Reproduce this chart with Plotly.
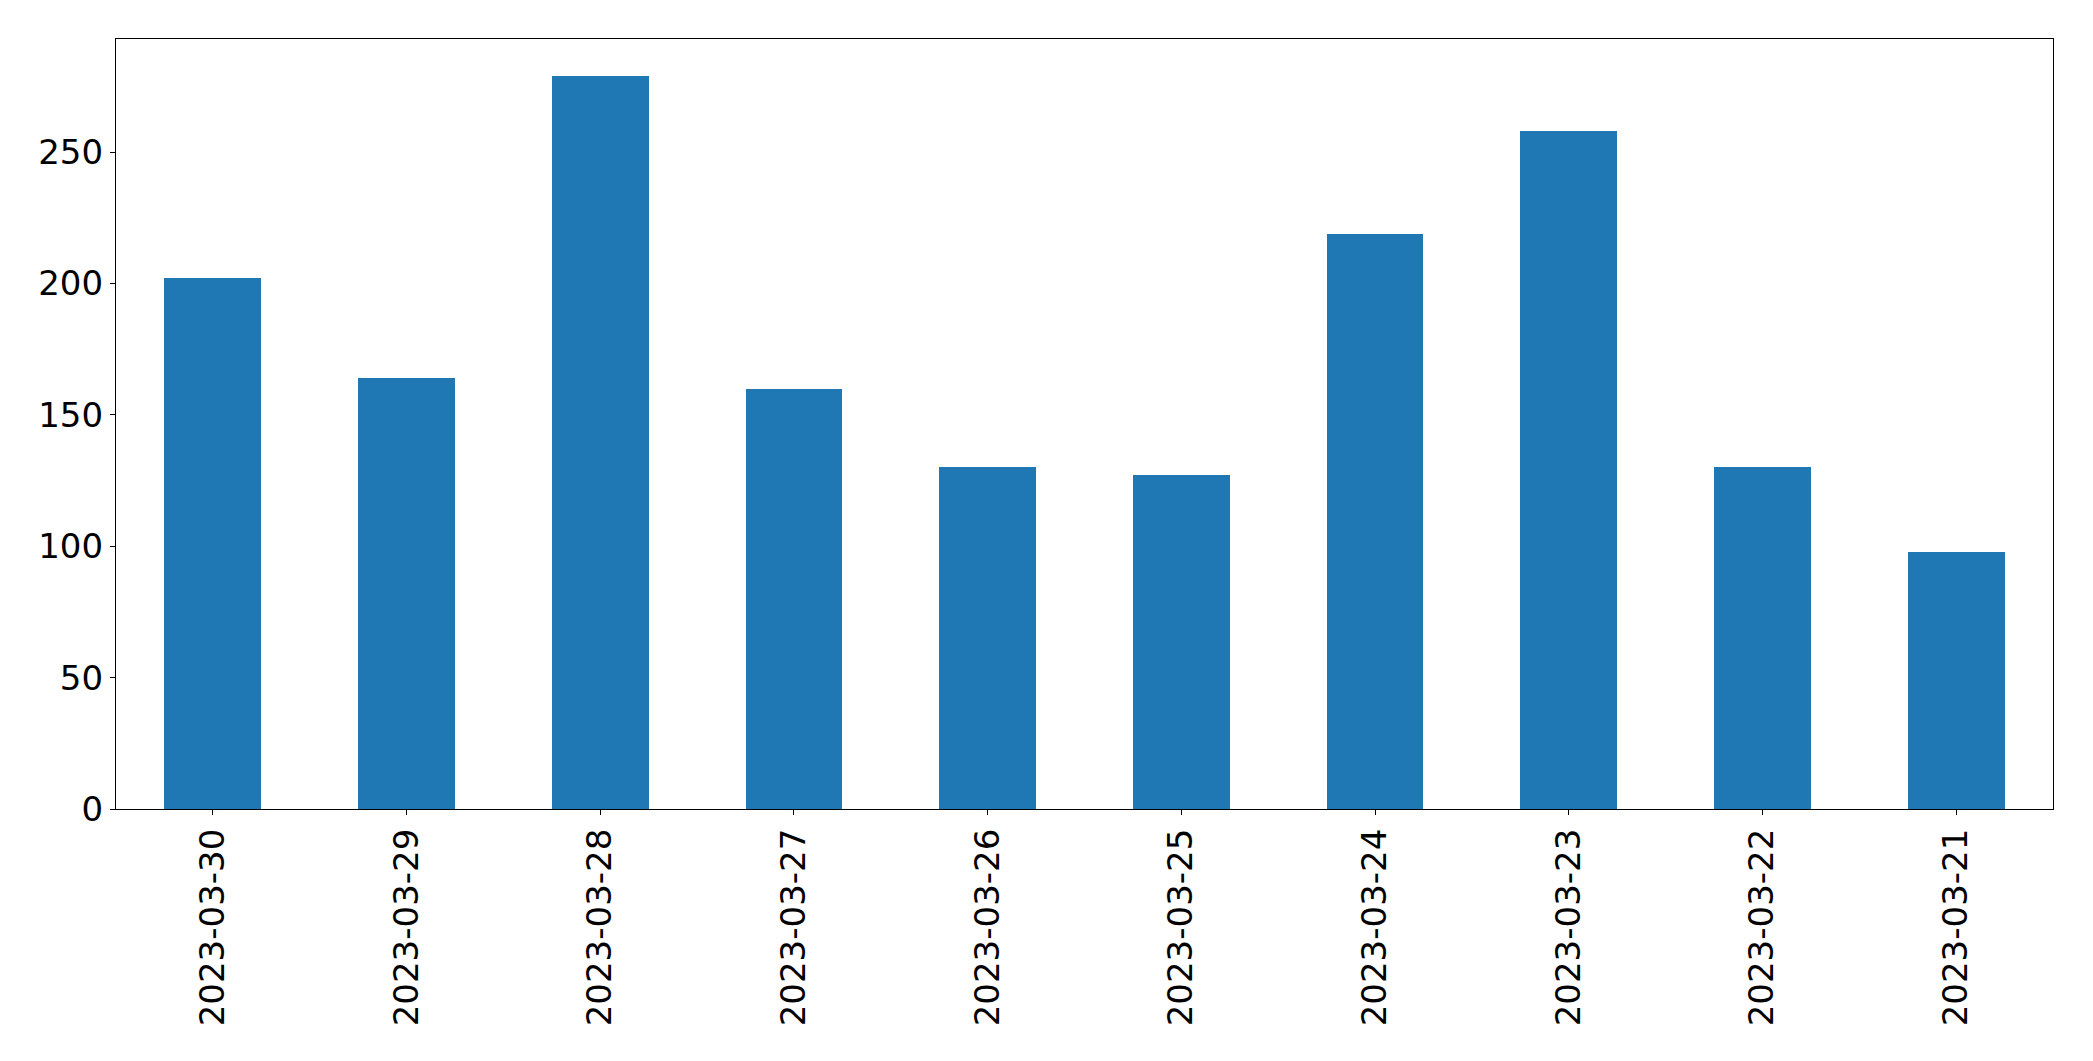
import plotly.graph_objects as go

dates = ["2023-03-30", "2023-03-29", "2023-03-28", "2023-03-27", "2023-03-26",
         "2023-03-25", "2023-03-24", "2023-03-23", "2023-03-22", "2023-03-21"]
counts = [202, 164, 279, 160, 130, 127, 219, 258, 130, 98]
y_ticks = [0, 50, 100, 150, 200, 250]

fig = go.Figure(go.Bar(x=dates, y=counts, width=0.5, marker=dict(color="#1f77b4", line=dict(width=0))))

fig.update_layout(
    width=2093, height=1061,
    margin=dict(l=116, r=40, t=39, b=252),
    paper_bgcolor="white", plot_bgcolor="white",
    font=dict(family="DejaVu Sans", size=34, color="black"),
    showlegend=False,
    bargap=0,
)
fig.update_xaxes(
    type="category", range=[-0.5, 9.5], tickangle=-90,
    ticks="outside", ticklen=5, tickwidth=1.2, tickcolor="black",
    showline=True, linecolor="black", linewidth=1.2, mirror=True,
    showgrid=False, zeroline=False,
)
fig.update_yaxes(
    range=[0, 293.1], tickvals=y_ticks,
    ticks="outside", ticklen=5, tickwidth=1.2, tickcolor="black",
    showline=True, linecolor="black", linewidth=1.2, mirror=True,
    showgrid=False, zeroline=False,
)
fig.write_html("out.html")
